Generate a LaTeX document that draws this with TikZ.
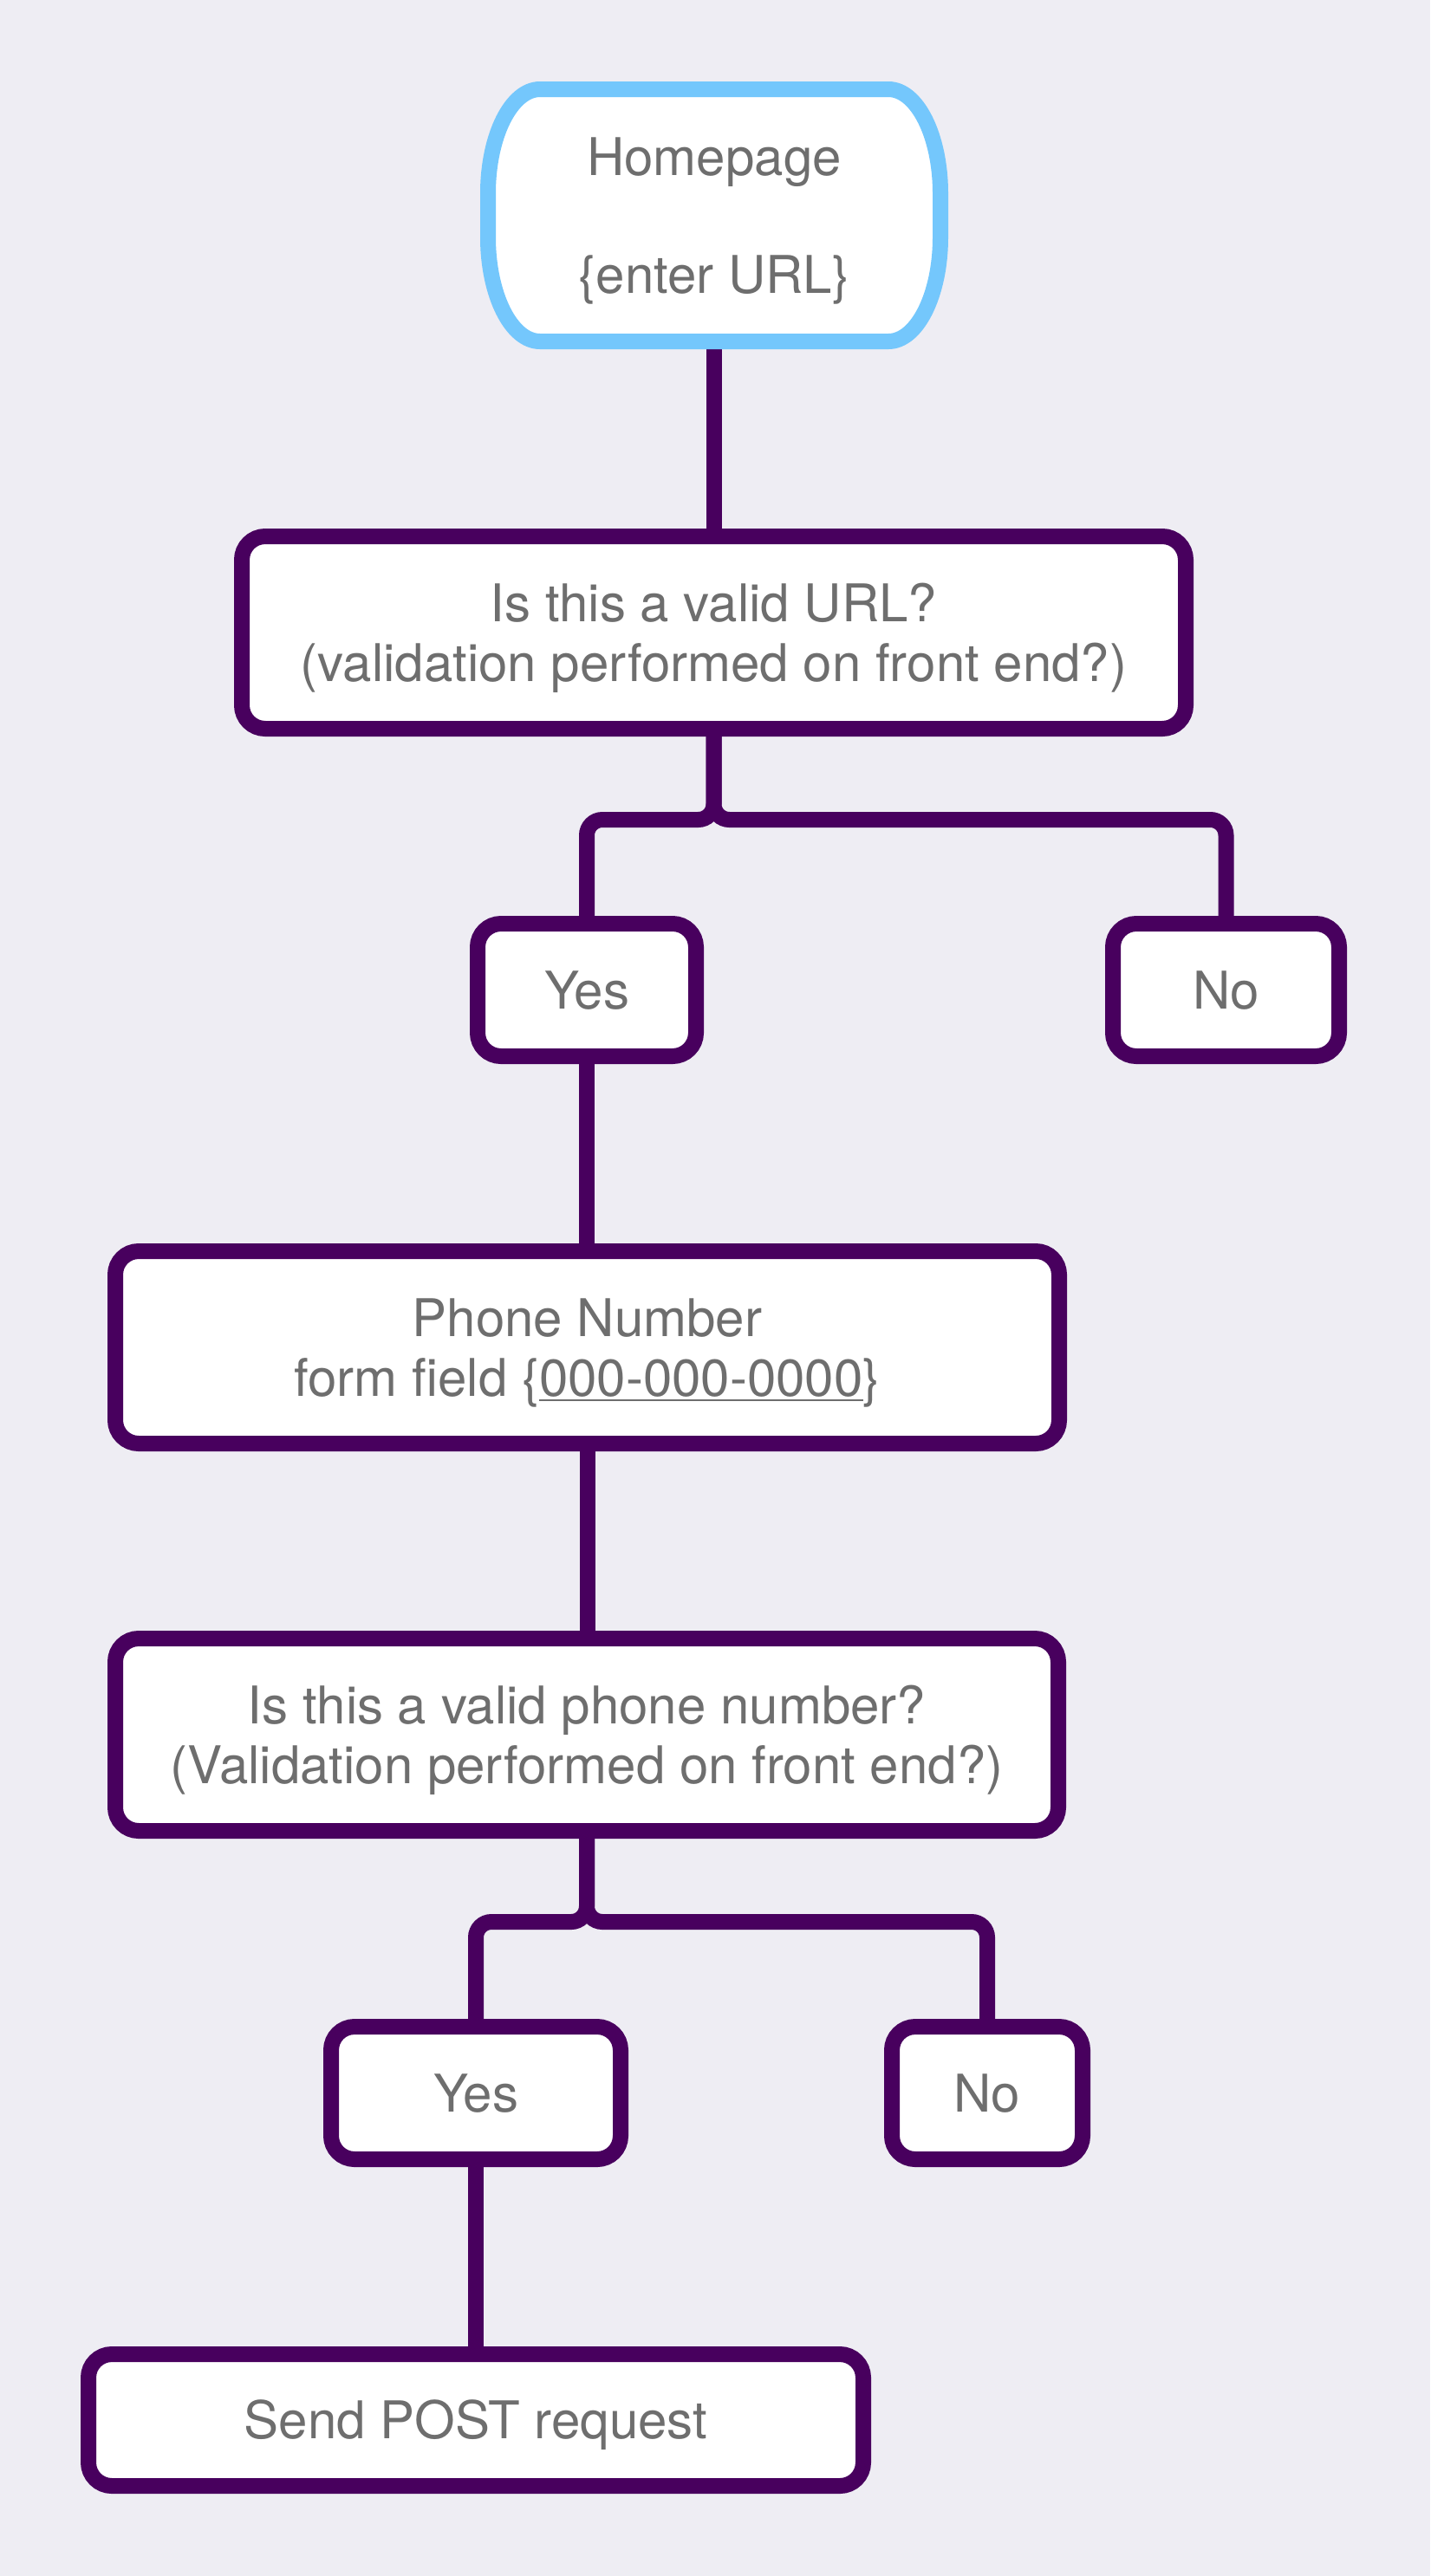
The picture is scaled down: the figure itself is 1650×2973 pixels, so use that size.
\documentclass[tikz,border=0pt]{standalone}
\usepackage{fontspec}
\setmainfont{TeX Gyre Heros}
\usetikzlibrary{backgrounds}
\definecolor{bgc}{HTML}{EEEDF3}
\definecolor{purp}{HTML}{48005E}
\definecolor{skyb}{HTML}{74C7FC}
\definecolor{txt}{HTML}{6E6E6E}
\newcommand\myul[1]{\setbox0\hbox{#1}\rlap{\rule[-3pt]{\wd0}{1pt}}\box0}
\begin{document}
\begin{tikzpicture}[x=0.5pt,y=-0.5pt,
  lbl/.style={text=txt, font=\fontsize{30pt}{34.5pt}\selectfont, align=center, inner sep=0pt, text height=21.5pt, text depth=0pt},
  box/.style={lbl, draw=purp, line width=9pt, fill=white, rounded corners=13.5pt},
  two/.style={text height=56pt},
  link/.style={draw=purp, line width=9pt, rounded corners=9pt}]
\useasboundingbox (0,0) rectangle (1650,2973);
% start terminal shape
\draw[skyb, line width=9pt, fill=white] (623,103) -- (1025,103)
  .. controls (1058.1,103) and (1085,156.7) .. (1085,223) -- (1085,274)
  .. controls (1085,340.3) and (1058.1,394) .. (1025,394) -- (623,394)
  .. controls (589.9,394) and (563,340.3) .. (563,274) -- (563,223)
  .. controls (563,156.7) and (589.9,103) .. (623,103) -- cycle;
\node[lbl, minimum width=261pt, minimum height=145.5pt, text height=89.5pt] (home) at (824,248.5) {Homepage\\[33.5pt]\{enter URL\}};
\node[box,two,minimum width=544.5pt,minimum height=111pt] (url) at (823.5,730) {Is this a valid URL?\\(validation performed on front end?)};
\node[box,minimum width=126pt,minimum height=76.5pt] (yes1) at (677,1142.5) {Yes};
\node[box,minimum width=130.5pt,minimum height=76.5pt] (no1) at (1414.5,1142.5) {No};
\node[box,two,minimum width=544.5pt,minimum height=111pt] (phone) at (677.5,1555) {Phone Number\\form field \{\myul{000-000-0000}\}};
\node[box,two,minimum width=544pt,minimum height=111pt] (pval) at (677,2002) {Is this a valid phone number?\\(Validation performed on front end?)};
\node[box,minimum width=167pt,minimum height=76.5pt] (yes2) at (549,2415.5) {Yes};
\node[box,minimum width=110pt,minimum height=76.5pt] (no2) at (1139,2415.5) {No};
\node[box,minimum width=447pt,minimum height=76pt] (post) at (549,2793) {Send POST request};
\coordinate (j1) at (823.5,946);
\coordinate (j2) at (677,2218);
\begin{scope}[on background layer]
\fill[bgc] (0,0) rectangle (1650,2973);
\draw[link] (home.south) -- (url.north -| home.south);
\draw[link] (url.south) -- (j1) -| (yes1.north);
\draw[link] (url.south) -- (j1) -| (no1.north);
\draw[link] (yes1.south) -- (phone.north -| yes1.south);
\draw[link] (phone.south) -- (pval.north -| phone.south);
\draw[link] (pval.south) -- (j2) -| (yes2.north);
\draw[link] (pval.south) -- (j2) -| (no2.north);
\draw[link] (yes2.south) -- (post.north -| yes2.south);
\end{scope}
\end{tikzpicture}
\end{document}
